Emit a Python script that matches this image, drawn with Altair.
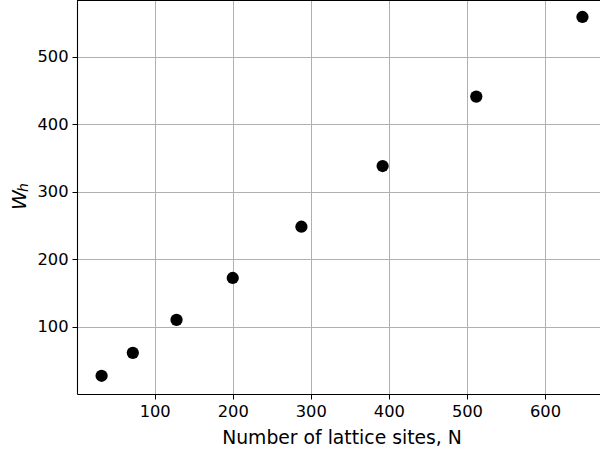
import altair as alt
import pandas as pd

# Data
N_sites = [32, 72, 128, 200, 288, 392, 512, 648]
W_h = [27, 61, 110, 172, 248, 338, 441, 559]
x_ticks = [100, 200, 300, 400, 500, 600]
y_ticks = [100, 200, 300, 400, 500]

df = pd.DataFrame({"N": N_sites, "W": W_h})

W_PX = 523
H_PX = 394
FONT = "DejaVu Sans"

points = alt.Chart(df).mark_circle(size=150, color="black", opacity=1).encode(
    x=alt.X(
        "N:Q",
        scale=alt.Scale(domain=[0.5, 670.5], nice=False, zero=False),
        axis=alt.Axis(
            values=x_ticks,
            title="Number of lattice sites, N",
            titleFont=FONT,
            titleFontSize=18.8,
            titleFontWeight="normal",
            titleColor="black",
            titleX=264.5,
            titleAlign="center",
            titleY=49,
            titleBaseline="alphabetic",
            labelFont=FONT,
            labelFontSize=16.3,
            labelColor="black",
            labelPadding=4,
            tickSize=5,
            tickColor="black",
            domainColor="black",
            domainWidth=1.1,
            gridColor="#b0b0b0",
            gridWidth=1,
        ),
    ),
    y=alt.Y(
        "W:Q",
        scale=alt.Scale(domain=[0, 584.2], nice=False, zero=False),
        axis=alt.Axis(
            values=y_ticks,
            title=None,
            labelFont=FONT,
            labelFontSize=16.3,
            labelColor="black",
            labelPadding=4,
            tickSize=5,
            tickColor="black",
            domainColor="black",
            domainWidth=1.1,
            gridColor="#b0b0b0",
            gridWidth=1,
        ),
    ),
)

top_spine = alt.Chart(pd.DataFrame({"a": [0]})).mark_rule(color="black", strokeWidth=2.2).encode(
    x=alt.value(0), x2=alt.value(W_PX), y=alt.value(0)
)

ytitle_main = alt.Chart(pd.DataFrame({"t": ["W"]})).mark_text(
    font=FONT, fontSize=20, fontStyle="italic", angle=270, color="black",
    align="center", baseline="middle"
).encode(text="t:N", x=alt.value(-57), y=alt.value(200))

ytitle_sub = alt.Chart(pd.DataFrame({"t": ["h"]})).mark_text(
    font=FONT, fontSize=14, fontStyle="italic", angle=270, color="black",
    align="center", baseline="middle"
).encode(text="t:N", x=alt.value(-53), y=alt.value(187.5))

chart = (
    alt.layer(points, top_spine, ytitle_main, ytitle_sub)
    .properties(
        width=W_PX,
        height=H_PX,
        autosize=alt.AutoSizeParams(type="none"),
        padding={"left": 77, "top": 0, "right": 0, "bottom": 55},
        background="white",
    )
    .configure_view(stroke=None)
)

chart.save("out.html", embed_options={"renderer": "svg", "actions": False})
